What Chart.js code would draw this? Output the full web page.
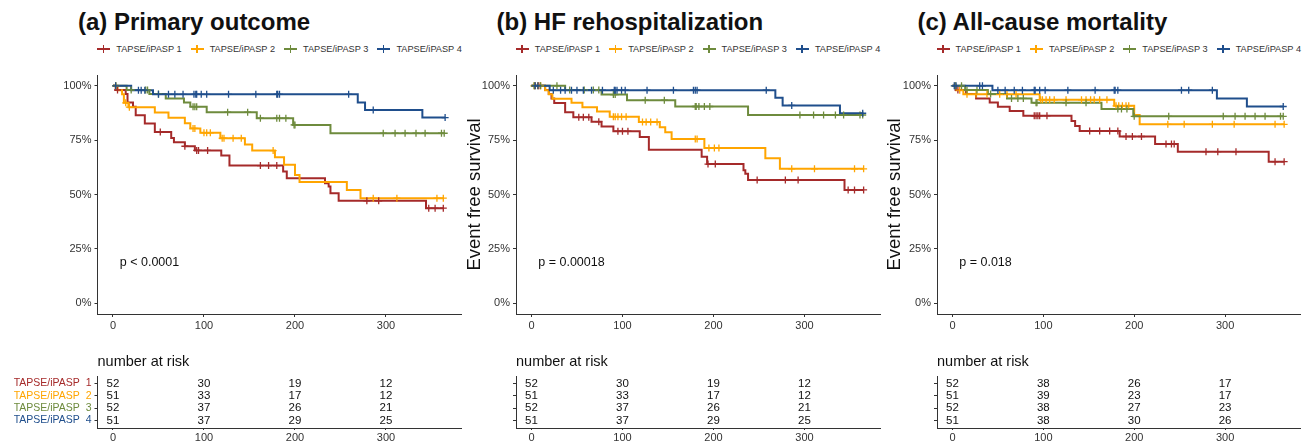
<!DOCTYPE html>
<html>
<head>
<meta charset="utf-8">
<title>TAPSE/iPASP Kaplan-Meier curves</title>
<script src="https://cdn.jsdelivr.net/npm/chart.js@4.4.1/dist/chart.umd.min.js"></script>
<style>
  body { margin: 0; background: #fff; }
  #fig { position: relative; width: 1309px; height: 444px; overflow: hidden;
         font-family: "Liberation Sans", Arial, Helvetica, sans-serif; }
  #fig canvas { position: absolute; }
  .panel-title { position: absolute; top: 10px; font-size: 24px; line-height: 24px;
                 font-weight: bold; color: #111; white-space: nowrap; }
  .legend { position: absolute; top: 43px; height: 12px; display: flex; justify-content: center;
            align-items: center; font-size: 9.2px; color: #333; white-space: nowrap; }
  .legend .item { display: flex; align-items: center; margin: 0 4.5px; }
  .legend .mark { position: relative; width: 13px; height: 2px; margin-right: 6px; }
  .legend .mark::after { content: ""; position: absolute; left: 5.5px; top: -3px;
                         width: 1.5px; height: 8px; background: inherit; }
</style>
</head>
<body>
<div id="fig"></div>
<script>
Chart.defaults.font.family = '"Liberation Sans", Arial, Helvetica, sans-serif';
Chart.defaults.color = '#222';

const groupLabels = ['TAPSE/iPASP 1', 'TAPSE/iPASP 2', 'TAPSE/iPASP 3', 'TAPSE/iPASP 4'];
const groupColors = ['#A52A2A', '#FFA500', '#6E8B3D', '#1F4E8C'];
const timeTicks = [0, 100, 200, 300];
const survTicks = [0, 25, 50, 75, 100];
const riskTimes = [0, 100, 200, 300];

// KM steps as [day, survival %]; censor times in days

// (a) primary outcome
const prim1 = [[0,100],[3,98.1],[14,96.2],[16,92.3],[22,90.4],[25,86.5],[35,82.7],[46,78.8],[64,76.0],[67,74.1],[79,72.2],[90,70.3],[119,68.0],[128,63.3],[187,60.6],[191,57.5],[233,55.2],[237,53.7],[239,50.6],[248,47.1],[344,43.7]];
const prim2 = [[0,100],[5,98.0],[10,96.1],[12,92.2],[17,90.2],[46,87.7],[61,85.3],[79,82.8],[85,80.4],[96,78.4],[118,75.9],[145,73.0],[153,70.2],[178,67.2],[188,63.7],[200,59.0],[205,55.7],[257,52.1],[272,48.3]];
const prim3 = [[0,100],[15,98.1],[40,96.2],[58,94.2],[78,92.3],[85,90.4],[103,87.9],[158,85.1],[198,82.0],[239,78.2]];
const prim4 = [[0,100],[20,98.0],[44,96.1],[269,92.4],[277,88.9],[340,85.4]];
const prim1Cens = [5, 52, 79, 92, 94, 104, 162, 171, 180, 279, 292, 347, 354, 363];
const prim2Cens = [3, 14, 18, 88, 90, 100, 103, 107, 120, 122, 132, 141, 176, 286, 312, 356, 363];
const prim3Cens = [3, 20, 36, 38, 50, 88, 90, 92, 126, 148, 162, 180, 183, 190, 199, 200, 297, 310, 321, 333, 343, 361, 364];
const prim4Cens = [3, 28, 31, 35, 50, 61, 68, 77, 89, 91, 92, 97, 103, 127, 157, 180, 181, 183, 259, 286, 365];
const primRisk = [[52, 30, 19, 12], [51, 33, 17, 12], [52, 37, 26, 21], [51, 37, 29, 25]];

// (b) HF rehospitalization
const hf1 = [[0,100],[15,98.1],[19,96.2],[22,94.2],[25,92.1],[37,87.9],[46,85.5],[66,83.5],[77,81.3],[90,79.1],[119,76.5],[129,70.6],[187,67.4],[193,64.0],[233,61.2],[235,59.6],[238,56.7],[344,52.1]];
const hf2 = [[0,100],[15,98.0],[19,96.1],[23,94.1],[44,92.2],[56,90.2],[72,88.2],[86,85.8],[118,83.4],[141,81.0],[147,78.6],[154,75.6],[190,71.4],[257,66.7],[273,61.8]];
const hf3 = [[0,100],[37,98.1],[77,96.0],[105,93.4],[158,90.5],[238,86.6]];
const hf4 = [[0,100],[20,98.0],[268,94.5],[276,91.0],[339,87.4]];
const hf1Cens = [4, 8, 52, 57, 63, 74, 95, 100, 106, 194, 202, 248, 279, 293, 348, 355, 365];
const hf2Cens = [3, 7, 10, 90, 92, 95, 99, 104, 122, 126, 131, 138, 180, 182, 195, 201, 206, 286, 311, 355, 365];
const hf3Cens = [3, 10, 28, 42, 58, 68, 74, 90, 92, 125, 146, 180, 181, 184, 190, 196, 295, 310, 321, 334, 343, 361, 364];
const hf4Cens = [4, 7, 24, 32, 37, 44, 50, 57, 66, 78, 91, 92, 94, 99, 103, 127, 156, 178, 180, 182, 258, 286, 364];
const hfRisk = [[52, 30, 19, 12], [51, 33, 17, 12], [52, 37, 26, 21], [51, 37, 29, 25]];

// (c) all-cause mortality
const mort1 = [[0,100],[4,98.1],[15,96.2],[26,94.2],[41,92.3],[50,90.4],[63,88.4],[78,86.2],[131,83.8],[135,81.5],[140,79.2],[184,76.7],[223,73.3],[248,69.7],[348,65.1]];
const mort2 = [[0,100],[4,98.0],[12,96.1],[96,93.6],[178,90.8],[200,86.6],[206,82.3]];
const mort3 = [[0,100],[14,98.1],[39,96.2],[60,94.2],[87,92.2],[164,89.3],[199,86.0]];
const mort4 = [[0,100],[44,98.0],[291,94.2],[324,90.5]];
const mort1Cens = [6, 90, 92, 94, 96, 104, 151, 162, 173, 182, 191, 198, 208, 235, 241, 244, 279, 292, 312, 355, 365];
const mort2Cens = [3, 8, 16, 26, 38, 52, 60, 70, 97, 99, 103, 107, 112, 125, 142, 147, 152, 156, 162, 170, 180, 183, 187, 191, 194, 237, 255, 286, 310, 355, 365];
const mort3Cens = [3, 10, 16, 27, 42, 65, 72, 78, 92, 93, 125, 147, 182, 186, 192, 200, 238, 298, 311, 322, 333, 344, 361, 364];
const mort4Cens = [2, 4, 30, 33, 50, 58, 68, 77, 90, 91, 96, 102, 127, 157, 178, 179, 182, 252, 260, 286, 364];
const mortRisk = [[52, 38, 26, 17], [51, 39, 23, 17], [52, 38, 27, 23], [51, 38, 30, 26]];

const panels = [
  { title: '(a) Primary outcome', curves: [prim1, prim2, prim3, prim4],
    cens: [prim1Cens, prim2Cens, prim3Cens, prim4Cens], risk: primRisk,
    pval: 'p < 0.0001', yTitle: false, rowLabels: true },
  { title: '(b) HF rehospitalization', curves: [hf1, hf2, hf3, hf4],
    cens: [hf1Cens, hf2Cens, hf3Cens, hf4Cens], risk: hfRisk,
    pval: 'p = 0.00018', yTitle: true, rowLabels: false },
  { title: '(c) All-cause mortality', curves: [mort1, mort2, mort3, mort4],
    cens: [mort1Cens, mort2Cens, mort3Cens, mort4Cens], risk: mortRisk,
    pval: 'p = 0.018', yTitle: true, rowLabels: false }
];

// canvas placement for each column
const frames = [
  { left: 0,   width: 470, axisW: 97.5, padR: 8.5 },
  { left: 460, width: 430, axisW: 56,   padR: 10 },
  { left: 880, width: 429, axisW: 57,   padR: 8.5 }
];

const fig = document.getElementById('fig');

function addCanvas(left, top, w, h) {
  const c = document.createElement('canvas');
  c.width = w; c.height = h;
  c.style.left = left + 'px'; c.style.top = top + 'px';
  c.style.width = w + 'px'; c.style.height = h + 'px';
  fig.appendChild(c);
  return c;
}

function survAt(steps, t) {
  let s = steps[0][1];
  for (const [x, y] of steps) if (x <= t) s = y;
  return s;
}

const pvalueLabel = {
  id: 'pvalueLabel',
  afterDatasetsDraw(chart, args, opts) {
    const { ctx, scales } = chart;
    ctx.save();
    ctx.font = '12.5px ' + Chart.defaults.font.family;
    ctx.fillStyle = '#111';
    ctx.textAlign = 'left';
    ctx.textBaseline = 'middle';
    ctx.fillText(opts.text, scales.x.getPixelForValue(opts.x), scales.y.getPixelForValue(opts.y));
    ctx.restore();
  }
};

// writes each count at its point in the risk table
const riskNumbers = {
  id: 'riskNumbers',
  afterDatasetsDraw(chart) {
    const { ctx } = chart;
    ctx.save();
    ctx.font = '11.5px ' + Chart.defaults.font.family;
    ctx.fillStyle = '#111';
    ctx.textAlign = 'center';
    ctx.textBaseline = 'middle';
    chart.data.datasets.forEach((ds, i) => {
      chart.getDatasetMeta(i).data.forEach((pt, j) => {
        ctx.fillText(String(ds.data[j].n), pt.x, pt.y);
      });
    });
    ctx.restore();
  }
};

function timeAxis(height, tickLen, pad) {
  return {
    type: 'linear', min: -17, max: 383,
    afterBuildTicks: s => { s.ticks = timeTicks.map(v => ({ value: v })); },
    afterFit: s => { s.height = height; },
    grid: { drawOnChartArea: false, tickLength: tickLen, color: '#333' },
    border: { color: '#333', width: 1 },
    ticks: { font: { size: 11 }, color: '#333', padding: pad, maxRotation: 0 }
  };
}

panels.forEach((p, k) => {
  const f = frames[k];
  const plotW = f.width - f.padR - f.axisW;

  const title = document.createElement('div');
  title.className = 'panel-title';
  title.style.left = (f.left + f.axisW - 19.5) + 'px';
  title.textContent = p.title;
  fig.appendChild(title);

  const legend = document.createElement('div');
  legend.className = 'legend';
  legend.style.left = (f.left + f.axisW) + 'px';
  legend.style.width = plotW + 'px';
  groupLabels.forEach((lab, g) => {
    const item = document.createElement('span');
    item.className = 'item';
    const mark = document.createElement('span');
    mark.className = 'mark';
    mark.style.background = groupColors[g];
    const txt = document.createElement('span');
    txt.textContent = lab;
    item.appendChild(mark);
    item.appendChild(txt);
    legend.appendChild(item);
  });
  fig.appendChild(legend);

  // survival curves with censor ticks
  const datasets = [];
  p.curves.forEach((steps, g) => {
    const cens = p.cens[g];
    const last = steps[steps.length - 1];
    const end = Math.max(cens[cens.length - 1], last[0]);
    const pts = steps.map(([x, y]) => ({ x, y }));
    pts.push({ x: end, y: last[1] });
    datasets.push({
      label: groupLabels[g], data: pts, stepped: true, fill: false,
      borderColor: groupColors[g], borderWidth: 2, pointRadius: 0, order: 20 - g
    });
    datasets.push({
      label: groupLabels[g] + ' censored', data: cens.map(t => ({ x: t, y: survAt(steps, t) })),
      showLine: false, pointStyle: 'cross', pointRadius: 3.5,
      pointBorderColor: groupColors[g], pointBackgroundColor: groupColors[g],
      pointBorderWidth: 1.3, borderColor: groupColors[g], order: 10 - g
    });
  });

  new Chart(addCanvas(f.left, 64, f.width, 272), {
    type: 'line',
    data: { datasets },
    options: {
      responsive: false, animation: false, events: [],
      layout: { padding: { top: 11, right: f.padR, bottom: 0, left: 0 } },
      plugins: {
        legend: { display: false }, tooltip: { enabled: false },
        pvalueLabel: { text: p.pval, x: 7.5, y: 18.5 }
      },
      scales: {
        x: timeAxis(22, 3, 2),
        y: {
          type: 'linear', min: -5, max: 105,
          afterBuildTicks: s => { s.ticks = survTicks.map(v => ({ value: v })); },
          afterFit: s => { s.width = f.axisW; },
          grid: { drawOnChartArea: false, tickLength: 3, color: '#333' },
          border: { color: '#333', width: 1 },
          ticks: { font: { size: 11 }, color: '#333', padding: 3, callback: v => v + '%' },
          title: { display: p.yTitle, text: 'Event free survival', font: { size: 18.5 },
                   color: '#111', padding: { top: 4, bottom: 0 } }
        }
      }
    },
    plugins: [pvalueLabel]
  });

  // number at risk table
  const tableSets = p.risk.map((counts, g) => ({
    label: groupLabels[g],
    data: counts.map((n, j) => ({ x: riskTimes[j], y: g + 1, n })),
    pointRadius: 0, showLine: false
  }));

  new Chart(addCanvas(f.left, 340, f.width, 104), {
    type: 'scatter',
    data: { datasets: tableSets },
    options: {
      responsive: false, animation: false, events: [],
      layout: { padding: { top: 0, right: f.padR, bottom: 0, left: 0 } },
      plugins: {
        legend: { display: false }, tooltip: { enabled: false },
        title: { display: true, text: 'number at risk', align: 'start', fullSize: false,
                 font: { size: 14.5, weight: 'normal' }, color: '#111',
                 padding: { top: 13, bottom: 5.6 } }
      },
      scales: {
        x: timeAxis(16, 2, 1),
        y: {
          type: 'linear', reverse: true, min: 0.4, max: 4.6,
          afterBuildTicks: s => { s.ticks = [1, 2, 3, 4].map(v => ({ value: v })); },
          afterFit: s => { s.width = f.axisW; },
          grid: { drawOnChartArea: false, tickLength: 3, color: '#333' },
          border: { color: '#333', width: 1 },
          ticks: {
            font: { size: 10.5 }, padding: 3,
            color: c => groupColors[c.index],
            callback: v => p.rowLabels ? groupLabels[v - 1].replace(/ (\d)$/, '  $1') : ''
          }
        }
      }
    },
    plugins: [riskNumbers]
  });
});
</script>
</body>
</html>
